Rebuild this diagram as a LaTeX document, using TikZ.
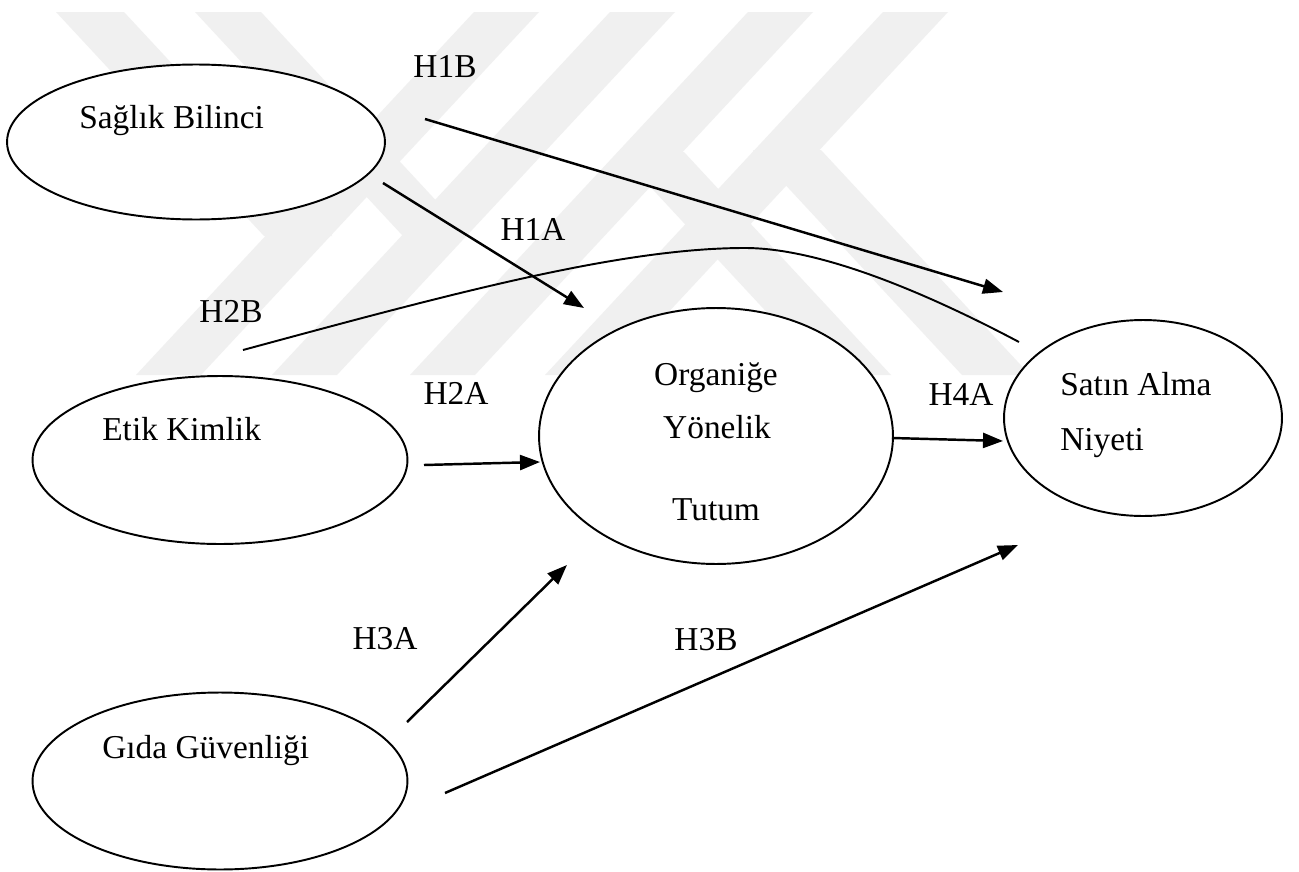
\documentclass[tikz,border=0pt]{standalone}
\usepackage{fontspec}
\setmainfont{Liberation Serif}
\usetikzlibrary{shapes.geometric,arrows.meta}
\definecolor{wm}{gray}{0.94}
\begin{document}
\begin{tikzpicture}[x=0.02cm,y=-0.02cm,
  oval/.style={draw=black, line width=1.1pt, fill=white, ellipse, inner sep=0pt, outer sep=0pt},
  txt/.style={font=\fontsize{19}{23}\selectfont, inner sep=0pt, anchor=base west},
  ctxt/.style={font=\fontsize{19}{23}\selectfont, inner sep=0pt, anchor=base},
  hyp/.style={font=\fontsize{19}{23}\selectfont, inner sep=0pt, anchor=base},
  arr/.style={line width=1.4pt, -{Triangle[length=0.4cm,width=0.3cm]}},
  link/.style={line width=1.1pt},
  band/.style={fill=wm, draw=none}]
\useasboundingbox (0,0) rectangle (1299,872);
\fill[white] (0,0) rectangle (1299,872);
% watermark bands
\fill[band] (136,375)--(201,375)--(539,12)--(474,12)--cycle;
\fill[band] (272,375)--(337,375)--(675,12)--(610,12)--cycle;
\fill[band] (410,375)--(475,375)--(813,12)--(748,12)--cycle;
\fill[band] (545,375)--(610,375)--(948,12)--(883,12)--cycle;
\fill[band] (56,12)--(124,12)--(332,236)--(264,236)--cycle;
\fill[band] (195,12)--(261,12)--(468,235)--(402,235)--cycle;
\fill[band] (962,375)--(1030,375)--(821,150)--(753,150)--cycle;
\fill[band] (825,375)--(891,375)--(684,152)--(618,152)--cycle;
% ellipses
\node[oval, minimum width=7.56cm, minimum height=3.10cm] (sb) at (196,142) {};
\node[oval, minimum width=7.50cm, minimum height=3.36cm] (ek) at (220,460) {};
\node[oval, minimum width=7.50cm, minimum height=3.54cm] (gg) at (220,781) {};
\node[oval, minimum width=7.08cm, minimum height=5.12cm] (oy) at (716,436) {};
\node[oval, minimum width=5.56cm, minimum height=3.92cm] (sa) at (1143,418) {};
% texts
\node[txt] (sbt) at (79,128) {Sağlık Bilinci};
\node[txt] (ekt) at (102,440) {Etik Kimlik};
\node[txt] (ggt) at (102,758) {Gıda Güvenliği};
\node[ctxt] (oyt1) at (716,385) {Organiğe};
\node[ctxt] (oyt2) at (717,438) {Yönelik};
\node[ctxt] (oyt3) at (716,520) {Tutum};
\node[txt] (sat1) at (1060,395) {Satın Alma};
\node[txt] (sat2) at (1060,450) {Niyeti};
% hypothesis labels
\node[hyp] (l1b) at (445,77) {H1B};
\node[hyp] (l1a) at (533,240) {H1A};
\node[hyp] (l2b) at (231,322) {H2B};
\node[hyp] (l2a) at (456,404) {H2A};
\node[hyp] (l4a) at (961,405) {H4A};
\node[hyp] (l3a) at (385,649) {H3A};
\node[hyp] (l3b) at (706,650) {H3B};
% connector end points
\coordinate (h1bS) at (425,119);  \coordinate (h1bE) at (1003,292);
\coordinate (h1aS) at (383,183);  \coordinate (h1aE) at (584,308);
\coordinate (h2aS) at (424,465);  \coordinate (h2aE) at (540,462);
\coordinate (h4aS) at (892,438);  \coordinate (h4aE) at (1003,441);
\coordinate (h3aS) at (407,722);  \coordinate (h3aE) at (567,565);
\coordinate (h3bS) at (445,793);  \coordinate (h3bE) at (1018,545);
\coordinate (h2bS) at (243,350);  \coordinate (h2bM) at (745,248); \coordinate (h2bE) at (1019,342);
% connectors
\draw[arr] (h1bS) -- (h1bE);
\draw[arr] (h1aS) -- (h1aE);
\draw[arr] (h2aS) -- (h2aE);
\draw[arr] (h4aS) -- (h4aE);
\draw[arr] (h3aS) -- (h3aE);
\draw[arr] (h3bS) -- (h3bE);
\draw[link] (h2bS) .. controls (450,294) and (620,248) .. (h2bM)
                  .. controls (830,248) and (949,305) .. (h2bE);
\end{tikzpicture}
\end{document}
